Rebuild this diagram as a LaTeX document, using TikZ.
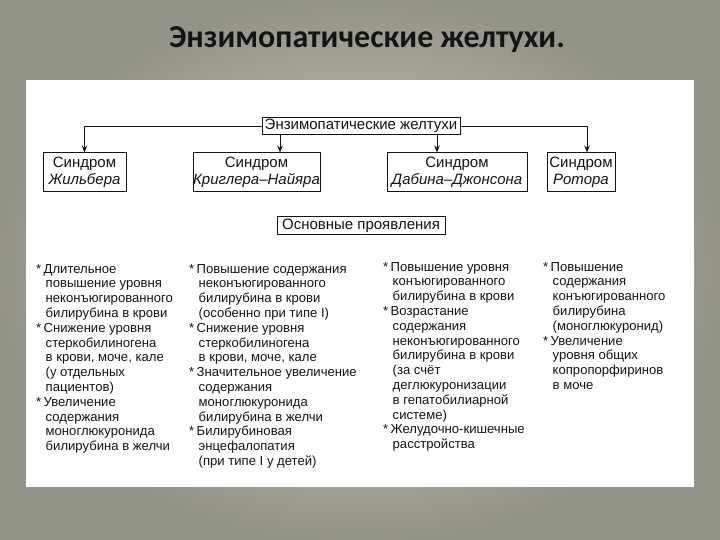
\documentclass[tikz,border=0pt]{standalone}
\usepackage{fontspec}
\setmainfont{Liberation Sans}
\newfontfamily\titlefont{Carlito}
\usetikzlibrary{arrows.meta}
\definecolor{bgin}{RGB}{214,212,192}
\definecolor{bgout}{RGB}{148,147,135}
\definecolor{ink}{RGB}{20,20,20}
\tikzset{
  box/.style={draw=ink, line width=1pt, inner sep=0pt, align=center, text=ink,
    font=\fontsize{15}{17.5}\selectfont},
  conn/.style={draw=ink, line width=0.9pt, -{Stealth[length=7pt,width=5.5pt]}},
  col/.style={anchor=base west, inner sep=0pt, text=ink,
    font=\fontsize{13.1}{14.8}\selectfont}
}
\newcommand\itm{\makebox[7.5pt][l]{*}}
\newcommand\cnt{\hspace*{9.5pt}}
\newcommand\colbox[1]{\parbox[t]{200pt}{\raggedright\setlength{\baselineskip}{14.8pt}#1}}
\begin{document}
\begin{tikzpicture}[x=1pt,y=-1pt]
\useasboundingbox (0,0) rectangle (720,540);
\shade[inner color=bgin, outer color=bgout] (0,0) rectangle (720,540);
\node[text=ink, font=\titlefont\bfseries\fontsize{32}{36}\selectfont] (title) at (367,40) {Энзимопатические желтухи.};
\fill[white] (26,80) rectangle (694,487);

\node[box, minimum width=198pt, minimum height=17pt] (top) at (361,126) {Энзимопатические желтухи};
\node[box, minimum width=83pt, minimum height=39pt] (gil) at (84.5,172.5) {Синдром\\\textit{Жильбера}};
\node[box, minimum width=127pt, minimum height=39pt] (crig) at (256.5,172.5) {Синдром\\\textit{Криглера–Найяра}};
\node[box, minimum width=140pt, minimum height=39pt] (dab) at (457,172.5) {Синдром\\\textit{Дабина–Джонсона}};
\node[box, minimum width=68pt, minimum height=39pt] (rot) at (581,172.5) {Синдром\\\textit{Ротора}};
\node[box, minimum width=168pt, minimum height=17pt] (main) at (361,225.5) {Основные проявления};

\coordinate (a1) at (280,0);
\coordinate (a2) at (437,0);
\coordinate (a3) at (587,0);
\draw[conn] (top.west) -| (gil.north);
\draw[conn] (top.east) -| (rot.north -| a3);
\draw[conn] (top.south -| a1) -- (crig.north -| a1);
\draw[conn] (top.south -| a2) -- (dab.north -| a2);

\node[col] (c1) at (36,273) {\colbox{%
\itm Длительное\\
\cnt повышение уровня\\
\cnt неконъюгированного\\
\cnt билирубина в крови\\
\itm Снижение уровня\\
\cnt стеркобилиногена\\
\cnt в крови, моче, кале\\
\cnt (у отдельных\\
\cnt пациентов)\\
\itm Увеличение\\
\cnt содержания\\
\cnt моноглюкуронида\\
\cnt билирубина в желчи}};

\node[col] (c2) at (189,273) {\colbox{%
\itm Повышение содержания\\
\cnt неконъюгированного\\
\cnt билирубина в крови\\
\cnt (особенно при типе I)\\
\itm Снижение уровня\\
\cnt стеркобилиногена\\
\cnt в крови, моче, кале\\
\itm Значительное увеличение\\
\cnt содержания\\
\cnt моноглюкуронида\\
\cnt билирубина в желчи\\
\itm Билирубиновая\\
\cnt энцефалопатия\\
\cnt (при типе I у детей)}};

\node[col] (c3) at (383,271) {\colbox{%
\itm Повышение уровня\\
\cnt конъюгированного\\
\cnt билирубина в крови\\
\itm Возрастание\\
\cnt содержания\\
\cnt неконъюгированного\\
\cnt билирубина в крови\\
\cnt (за счёт\\
\cnt деглюкуронизации\\
\cnt в гепатобилиарной\\
\cnt системе)\\
\itm Желудочно-кишечные\\
\cnt расстройства}};

\node[col] (c4) at (543,271) {\colbox{%
\itm Повышение\\
\cnt содержания\\
\cnt конъюгированного\\
\cnt билирубина\\
\cnt (моноглюкуронид)\\
\itm Увеличение\\
\cnt уровня общих\\
\cnt копропорфиринов\\
\cnt в моче}};
\end{tikzpicture}
\end{document}
